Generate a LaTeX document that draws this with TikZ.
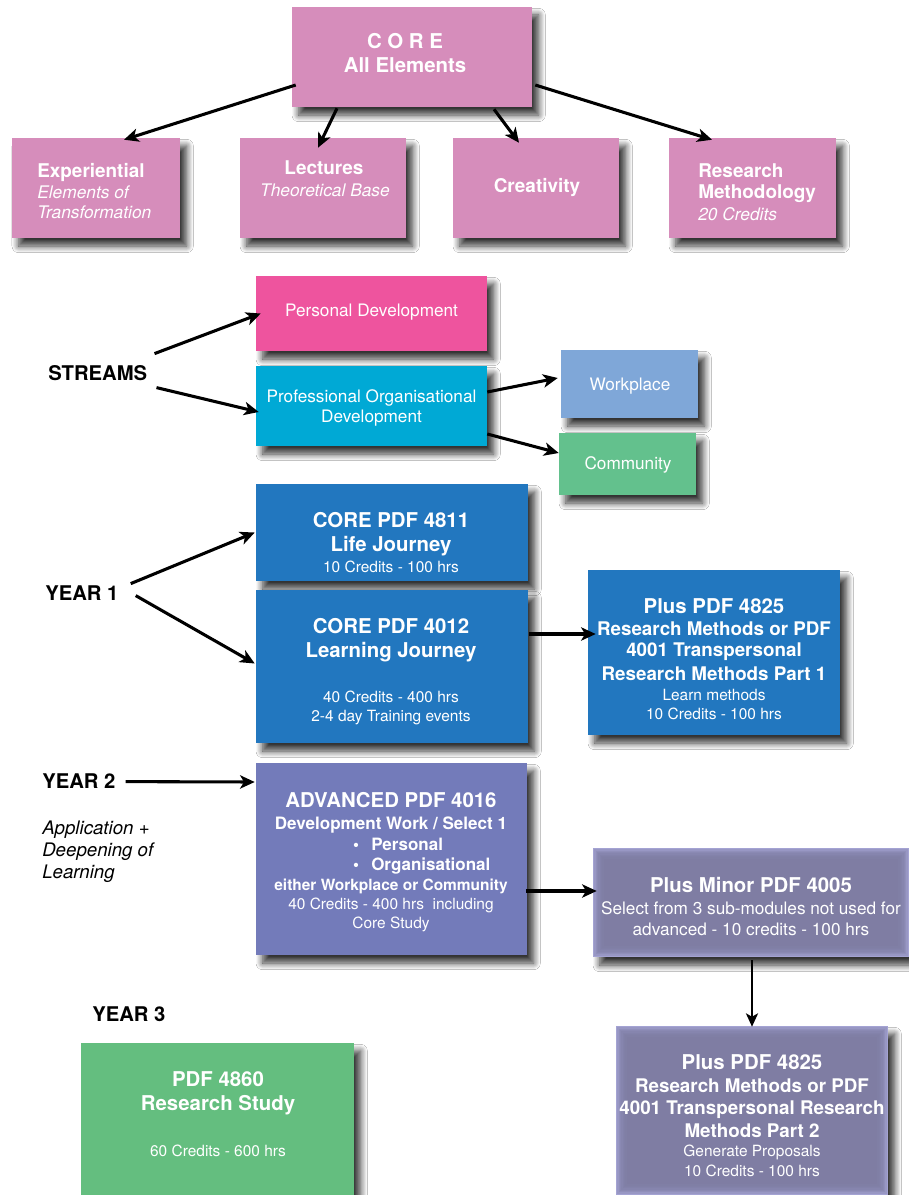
\documentclass[tikz,border=0pt]{standalone}
\usepackage{fontspec}
\setmainfont{TeX Gyre Heros}
\usetikzlibrary{arrows.meta,calc,shadows.blur}
\definecolor{cpink}{HTML}{D68DBB}
\definecolor{cpd}{HTML}{EE549E}
\definecolor{ccyan}{HTML}{00A9D5}
\definecolor{cwp}{HTML}{7FA7D8}
\definecolor{ccom}{HTML}{63C18D}
\definecolor{cblue}{HTML}{2277BF}
\definecolor{cadv}{HTML}{737BBA}
\definecolor{cgrey}{HTML}{7F7DA3}
\definecolor{cgreyedge}{HTML}{A4A3D3}
\definecolor{cgreen}{HTML}{64BE7F}
\begin{document}
\begin{tikzpicture}[x=0.75pt,y=-0.75pt,
  shad/.style={blur shadow={shadow xshift=5pt, shadow yshift=-6pt, shadow opacity=80, shadow blur radius=5pt, shadow blur steps=10}},
  box/.style={draw=none, inner sep=0, fill=#1, shad},
  gbox/.style={draw=none, inner sep=0, fill=cgreyedge, shad,
    path picture={
      \foreach \i in {1,...,7}{
        \fill[cgrey, opacity=0.3] ([xshift=\i*1pt, yshift=-\i*1pt]path picture bounding box.north west) rectangle ([xshift=-\i*1pt, yshift=\i*1pt]path picture bounding box.south east);}
      \fill[cgrey] ([xshift=8pt, yshift=-8pt]path picture bounding box.north west) rectangle ([xshift=-8pt, yshift=8pt]path picture bounding box.south east);
    }},
  sz/.style 2 args={minimum width=#1*0.75pt, minimum height=#2*0.75pt},
  tx/.style={inner sep=0, anchor=base, text=white},
  tB/.style={tx, font=\fontsize{15.3}{18}\selectfont\bfseries},
  tP/.style={tx, font=\fontsize{14.2}{17}\selectfont\bfseries},
  tM/.style={tx, font=\fontsize{14.1}{17}\selectfont\bfseries},
  tR/.style={tx, font=\fontsize{12.9}{15}\selectfont},
  tI/.style={tx, font=\fontsize{13}{15}\selectfont\itshape},
  tS/.style={tx, font=\fontsize{11.6}{14}\selectfont},
  lab/.style={inner sep=0, anchor=base west, text=black, font=\fontsize{15.2}{18}\selectfont\bfseries},
  lit/.style={inner sep=0, anchor=base west, text=black, font=\fontsize{14}{16}\selectfont\itshape},
  arr/.style={line width=2.3pt, -{Stealth[length=11pt,width=10pt,inset=3pt]}},
]
\fill[white] (0,0) rectangle (909,1195);
\useasboundingbox (0,0) rectangle (909,1195);

% ---------- CORE ----------
\node[box=cpink, sz={240}{100}] (core) at (412,57) {};
\node[box=cpink, sz={168}{100}] (exp) at (96,188) {};
\node[box=cpink, sz={166}{100}] (lec) at (323,188) {};
\node[box=cpink, sz={166}{100}] (cre) at (536,188) {};
\node[box=cpink, sz={167}{100}] (res) at (752.5,188) {};

\node[tB] (core1) at (405,49) {C O R E};
\node[tB] (core2) at (405,73) {All Elements};
\node[tP, anchor=base west] (exp1) at (37,177) {Experiential};
\node[tI, anchor=base west] (exp2) at (37,199) {Elements of};
\node[tI, anchor=base west] (exp3) at (37,218) {Transformation};
\node[tP] (lec1) at (324,175) {Lectures};
\node[tI] (lec2) at (325,196) {Theoretical Base};
\node[tP] (cre1) at (537,192) {Creativity};
\node[tP, anchor=base west] (res1) at (698,177) {Research};
\node[tP, anchor=base west] (res2) at (698,199) {Methodology};
\node[tI, anchor=base west] (res3) at (698,220) {20 Credits};

\draw[arr] ($(core.west)+(4,28)$) -- ($(exp.north)+(28,2)$);
\draw[arr] ($(core.south)+(-75,1)$) -- ($(lec.north)+(-5,10)$);
\draw[arr] ($(core.south)+(82,2)$) -- ($(cre.north)+(-17,5)$);
\draw[arr] ($(core.east)+(3,28)$) -- ($(res.north)+(-40.5,2)$);

% ---------- STREAMS ----------
\node[box=cpd, sz={231}{75}] (pd) at (371.5,313.5) {};
\node[box=ccyan, sz={231}{80}] (pod) at (371.5,406) {};
\node[box=cwp, sz={137}{68}] (wp) at (629.5,384) {};
\node[box=ccom, sz={137}{62}] (com) at (627.5,464) {};

\node[tR] (pd1) at (371.5,316) {Personal Development};
\node[tR] (pod1) at (371.5,402) {Professional Organisational};
\node[tR] (pod2) at (371.5,422) {Development};
\node[tR] (wp1) at (630,390) {Workplace};
\node[tR] (com1) at (628,469) {Community};
\node[lab] (streams) at (48,380) {STREAMS};

\draw[arr] ($(streams.east)+(7,-19)$) -- ($(pd.west)+(5,0)$);
\draw[arr] ($(streams.east)+(9,15)$) -- ($(pod.west)+(3,6)$);
\draw[arr] ($(pod.east)+(0,-14)$) -- ($(wp.west)+(-3,-6)$);
\draw[arr] ($(pod.east)+(0,28)$) -- ($(com.west)+(0,-11)$);

% ---------- YEAR 1 ----------
\node[box=cblue, sz={272}{97}] (lj) at (392,532.5) {};
\node[box=cblue, sz={272}{153}] (lrn) at (392,666.5) {};
\node[box=cblue, sz={252}{165}] (p1) at (714,652.5) {};

\node[tB] (lj1) at (391,527) {CORE PDF 4811};
\node[tB] (lj2) at (391,551) {Life Journey};
\node[tS] (lj3) at (391,572) {10 Credits - 100 hrs};
\node[tB] (lrn1) at (391,633) {CORE PDF 4012};
\node[tB] (lrn2) at (391,657) {Learning Journey};
\node[tS] (lrn3) at (391,702) {40 Credits - 400 hrs};
\node[tS] (lrn4) at (391,721) {2-4 day Training events};
\node[tB] (p11) at (714,613) {Plus PDF 4825};
\node[tM] (p12) at (714,635.5) {Research Methods or PDF};
\node[tM] (p13) at (714,656.5) {4001 Transpersonal};
\node[tM] (p14) at (714,680) {Research Methods Part 1};
\node[tS] (p15) at (714,700) {Learn methods};
\node[tS] (p16) at (714,719) {10 Credits - 100 hrs};
\node[lab] (y1) at (45,600) {YEAR 1};

\draw[arr] ($(y1.east)+(12,-9)$) -- ($(lj.west)+(-1,0)$);
\draw[arr] ($(y1.east)+(17,3)$) -- ($(lrn.west)+(-1,-3)$);
\draw[arr] ($(lrn.east)+(1,-32.5)$) -- ($(p1.west)+(8,-18.5)$);

% ---------- YEAR 2 ----------
\node[box=cadv, sz={271}{192}] (adv) at (391.5,859) {};
\node[gbox, sz={316}{109}] (mn) at (751,902.5) {};

\node[tB] (adv1) at (391,807) {ADVANCED PDF 4016};
\node[tx, font=\fontsize{12.8}{15}\selectfont\bfseries] (adv2) at (391,829) {Development Work / Select 1};
\node[tx, font=\fontsize{12.75}{15}\selectfont\bfseries] (advb1) at (356,850) {•};
\node[tx, anchor=base west, font=\fontsize{12.75}{15}\selectfont\bfseries] (adv3) at (371,850) {Personal};
\node[tx, font=\fontsize{12.75}{15}\selectfont\bfseries] (advb2) at (356,870) {•};
\node[tx, anchor=base west, font=\fontsize{12.75}{15}\selectfont\bfseries] (adv4) at (371,870) {Organisational};
\node[tx, font=\fontsize{11.6}{14}\selectfont\bfseries] (adv5) at (391,890) {either Workplace or Community};
\node[tS] (adv6) at (391,909) {40 Credits - 400 hrs\ \ including};
\node[tS] (adv7) at (391,928) {Core Study};
\node[tB] (mn1) at (751,892) {Plus Minor PDF 4005};
\node[tR] (mn2) at (751,914) {Select from 3 sub-modules not used for};
\node[tR] (mn3) at (751,935) {advanced - 10 credits - 100 hrs};
\node[lab] (y2) at (42,788) {YEAR 2};
\node[lit] (app1) at (42,834) {Application +};
\node[lit] (app2) at (42,856) {Deepening of};
\node[lit] (app3) at (42,878) {Learning};

\draw[arr] ($(y2.east)+(10,1)$) -- ($(adv.west)+(-1,-77)$);
\draw[arr] ($(adv.east)+(-1,32)$) -- ($(mn.west)+(4,-11.5)$);

% ---------- YEAR 3 ----------
\node[box=cgreen, sz={273}{152}] (r3) at (217.5,1119) {};
\node[gbox, sz={272}{169}] (p2) at (752,1110.5) {};

\node[tB] (r31) at (218,1086) {PDF 4860};
\node[tB] (r32) at (218,1110) {Research Study};
\node[tS] (r33) at (218,1156) {60 Credits - 600 hrs};
\node[tB] (p21) at (752,1069) {Plus PDF 4825};
\node[tM] (p22) at (752,1092) {Research Methods or PDF};
\node[tM] (p23) at (752,1114) {4001 Transpersonal Research};
\node[tM] (p24) at (752,1137) {Methods Part 2};
\node[tS] (p25) at (752,1156) {Generate Proposals};
\node[tS] (p26) at (752,1176) {10 Credits - 100 hrs};
\node[lab] (y3) at (92,1021) {YEAR 3};

\draw[line width=1.8pt, -{Stealth[length=10pt,width=9pt,inset=2.5pt]}] ($(mn.south)+(1,3)$) -- ($(p2.north)+(0,1)$);
\end{tikzpicture}
\end{document}
